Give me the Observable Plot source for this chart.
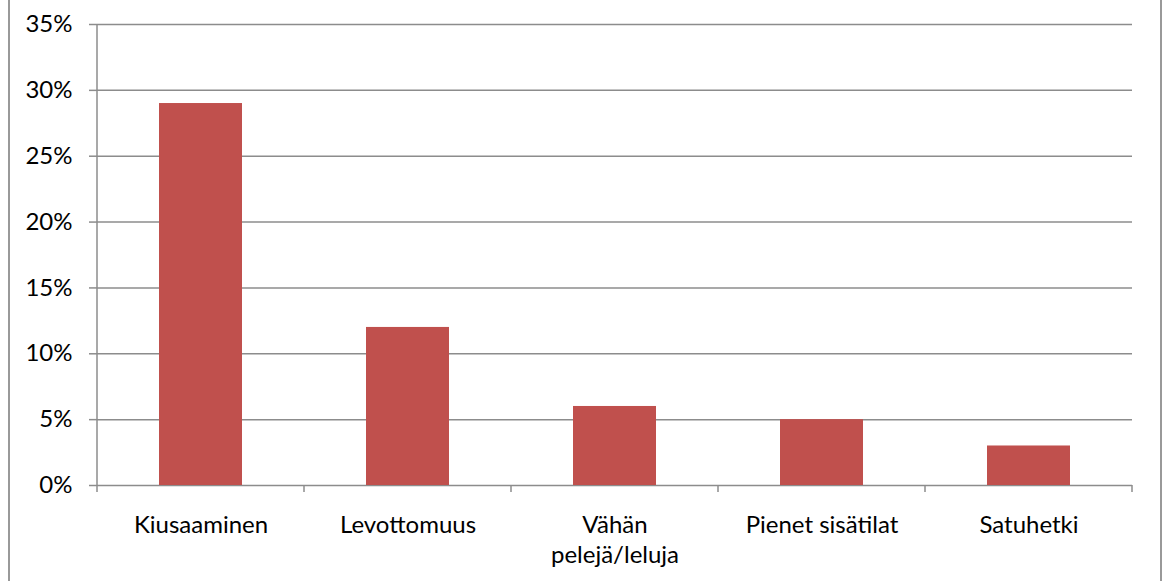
<!DOCTYPE html>
<html>
<head>
<meta charset="utf-8">
<script src="https://cdn.jsdelivr.net/npm/d3@7"></script>
<script src="https://cdn.jsdelivr.net/npm/@observablehq/plot@0.6"></script>
<style>
  html, body { margin: 0; padding: 0; background: #fff; }
  #wrap { position: relative; width: 1164px; height: 581px; overflow: hidden; }
  .edge { position: absolute; top: 0; width: 2px; height: 581px; background: #999; }
</style>
</head>
<body>
<div id="wrap">
  <div class="edge" style="left:8px"></div>
  <div class="edge" style="left:1160px"></div>
</div>
<script>
const categories = ["Kiusaaminen", "Levottomuus", "Vähän\npelejä/leluja", "Pienet sisätilat", "Satuhetki"];
const values = [29, 12, 6, 5, 3];
const yTicks = [0, 5, 10, 15, 20, 25, 30, 35];

const data = categories.map((c, i) => ({category: c, value: values[i]}));
const gridColor = "#8c8c8c";
const fontFamily = "Lato, 'Liberation Sans', sans-serif";

// axis frame lines: left y-axis line and category boundary ticks
function axisFrame(index, scales, values, dimensions) {
  const {marginLeft, marginRight, width} = dimensions;
  const n = categories.length;
  const step = (width - marginLeft - marginRight) / n;
  const y0 = scales.y(0), yTop = scales.y(35);
  const g = d3.create("svg:g").attr("stroke", gridColor).attr("stroke-width", 1.5);
  g.append("line").attr("x1", marginLeft).attr("x2", marginLeft).attr("y1", y0).attr("y2", yTop);
  for (let i = 0; i <= n; i++) {
    const x = marginLeft + i * step;
    g.append("line").attr("x1", x).attr("x2", x).attr("y1", y0).attr("y2", y0 + 7);
  }
  return g.node();
}

const chart = Plot.plot({
  width: 1164,
  height: 581,
  marginLeft: 97,
  marginRight: 32,
  marginTop: 24,
  marginBottom: 96,
  style: {fontFamily, fontSize: "24px", color: "#000", background: "transparent"},
  x: {domain: categories, paddingInner: 0.6, paddingOuter: 0.3, label: null},
  y: {domain: [0, 35], label: null},
  marks: [
    Plot.ruleY(yTicks, {stroke: gridColor, strokeWidth: 1.5, strokeOpacity: 1}),
    Plot.barY(data, {x: "category", y: "value", fill: "#C0504D"}),
    axisFrame,
    Plot.axisY({ticks: yTicks, tickFormat: d => d + "%", tickSize: 8, tickPadding: 17, stroke: gridColor, strokeWidth: 1.5, strokeOpacity: 1, label: null, fontSize: 24}),
    Plot.axisX({tickSize: 0, tickPadding: 26, lineHeight: 1.25, label: null, fontSize: 24})
  ]
});
chart.style.position = "absolute";
chart.style.left = "0px";
chart.style.top = "0px";
document.getElementById("wrap").appendChild(chart);
</script>
</body>
</html>
